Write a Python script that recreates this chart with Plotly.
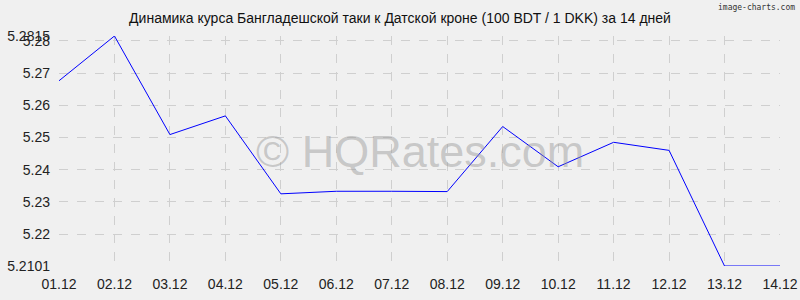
import plotly.graph_objects as go

dates = ["01.12", "02.12", "03.12", "04.12", "05.12", "06.12", "07.12",
         "08.12", "09.12", "10.12", "11.12", "12.12", "13.12", "14.12"]
rates = [5.2676, 5.2815, 5.2509, 5.2567, 5.2325, 5.2333, 5.2333,
         5.2332, 5.2534, 5.2409, 5.2485, 5.2460, 5.2101, 5.2101]
y_ticks = [5.2101, 5.22, 5.23, 5.24, 5.25, 5.26, 5.27, 5.28, 5.2815]
y_labels = ["5.2101", "5.22", "5.23", "5.24", "5.25", "5.26", "5.27", "5.28", "5.2815"]

fig = go.Figure()
fig.add_trace(go.Scatter(x=list(range(len(dates))), y=rates, mode="lines",
                         line=dict(color="#0000ff", width=1)))

fig.update_layout(
    width=800, height=300,
    margin=dict(l=59, r=20, t=36, b=34),
    paper_bgcolor="#f0f0f0", plot_bgcolor="#f0f0f0",
    showlegend=False,
    font=dict(family="Liberation Sans, Arial", size=14, color="#222"),
    title=dict(text="Динамика курса Бангладешской таки к Датской кроне (100 BDT / 1 DKK) за 14 дней",
               x=0.5, xanchor="center", y=0.94, yanchor="middle",
               font=dict(size=14, color="#111")),
    xaxis=dict(range=[0, len(dates) - 1], tickvals=list(range(len(dates))), ticktext=dates,
               showgrid=True, gridcolor="#cfcfcf", griddash="dash", gridwidth=1,
               zeroline=False, showline=False, ticks="", ticklen=0,
               ticklabelstandoff=8, automargin=False),
    yaxis=dict(range=[y_ticks[0], y_ticks[-1]], tickvals=y_ticks, ticktext=y_labels,
               showgrid=True, gridcolor="#cfcfcf", griddash="dash", gridwidth=1,
               zeroline=False, showline=False, ticks="", ticklen=0,
               ticklabelstandoff=8, automargin=False),
    annotations=[
        dict(text="© HQRates.com", x=0.5, y=0.5, xref="paper", yref="paper",
             showarrow=False, font=dict(size=45, color="rgba(150,150,150,0.45)",
                                        family="Liberation Sans, Arial")),
        dict(text="image-charts.com", x=1, y=1, xref="paper", yref="paper",
             xanchor="right", yanchor="top", xshift=17, yshift=35, showarrow=False,
             font=dict(size=8, color="#333", family="DejaVu Sans Mono")),
    ],
)
fig.write_html("out.html")
